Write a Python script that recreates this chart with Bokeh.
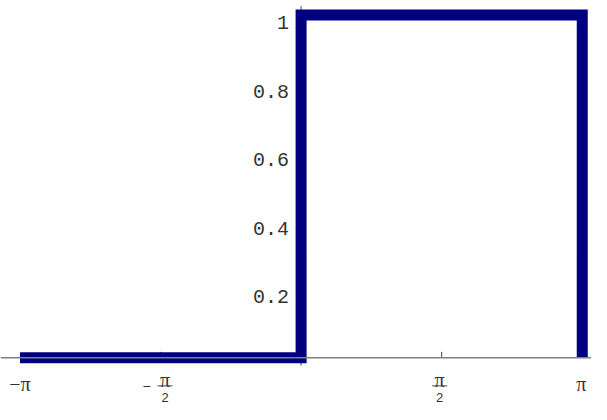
import math
from bokeh.plotting import figure
from bokeh.models import Span, Range1d
from bokeh.core.properties import value
from bokeh.embed import file_html
from bokeh.resources import INLINE

PI = math.pi

# ---- data -------------------------------------------------------------
step_x = [-PI, 0.0, 0.0, PI, PI]
step_y = [0.0, 0.0, 1.0, 1.0, 0.0]

y_ticks = [0.2, 0.4, 0.6, 0.8, 1.0]
y_labels = ["0.2", "0.4", "0.6", "0.8", "1"]

plain_ticks = [-PI, PI]
plain_labels = ["\u2212\u03c0", "\u03c0"]

frac_ticks = [-PI / 2, PI / 2]
frac_signs = ["\u2212", ""]
frac_nums = ["\u03c0", "\u03c0"]
frac_dens = ["2", "2"]

# ---- layout -------------------------------------------------------------
W, H = 591, 404
X0, X1 = -3.359, 3.245
Y0, Y1 = -0.1360, 1.0421
PX_X = W / (X1 - X0)
PX_Y = H / (Y1 - Y0)


def dy(px):
    """screen pixels downward -> data units"""
    return -px / PX_Y


def dx(px):
    return px / PX_X


p = figure(width=W, height=H, output_backend="svg", toolbar_location=None,
           x_range=Range1d(X0, X1), y_range=Range1d(Y0, Y1),
           min_border=0, min_border_left=0, min_border_right=0,
           min_border_top=0, min_border_bottom=0)
p.axis.visible = False
p.grid.visible = False
p.outline_line_color = None
p.background_fill_color = "white"
p.border_fill_color = "white"

# axes through the origin
p.add_layout(Span(location=0, dimension="width", line_color="#808080", line_width=1.5))
p.segment(x0=[0], y0=[dy(8)], x1=[0], y1=[dy(-352)], line_color="#555555", line_width=1)
# small x ticks (upward)
p.segment(x0=frac_ticks, y0=[0] * len(frac_ticks), x1=frac_ticks,
          y1=[dy(-6)] * len(frac_ticks), line_color="#444444", line_width=1)

# step function
p.line(step_x, step_y, line_color="#000080", line_width=11,
       line_join="miter", line_cap="butt")

# y tick labels
p.text(x=[0] * len(y_ticks), y=y_ticks, text=y_labels, x_offset=-12, y_offset=7.5,
       text_align="right", text_baseline="alphabetic",
       text_font=value("Liberation Mono"), text_font_size="20px", text_color="#333333")

# x tick labels: plain
p.text(x=plain_ticks, y=[0, 0], text=plain_labels, x_offset=[0, -1], y_offset=26,
       text_align="center", text_baseline="alphabetic",
       text_font=value("Liberation Serif"), text_font_size="20px", text_color="#333333")

# x tick labels: fractions
shift = [4.5, -2]
fx = [t + dx(s) for t, s in zip(frac_ticks, shift)]
p.text(x=fx, y=[0, 0], text=frac_nums, y_offset=22,
       text_align="center", text_baseline="alphabetic",
       text_font=value("Liberation Serif"), text_font_size="20px", text_color="#333333")
p.segment(x0=[x - dx(7.5) for x in fx], y0=[dy(28)] * 2,
          x1=[x + dx(7.5) for x in fx], y1=[dy(28)] * 2,
          line_color="#444444", line_width=1)
p.text(x=fx, y=[0, 0], text=frac_dens, y_offset=40,
       text_align="center", text_baseline="alphabetic",
       text_font=value("Liberation Sans"), text_font_size="13px", text_color="#333333")
p.text(x=[x - dx(18.5) for x in fx], y=[0, 0], text=frac_signs, y_offset=28,
       text_align="center", text_baseline="middle",
       text_font=value("Liberation Sans"), text_font_size="14px", text_color="#333333")

open("out.html", "w").write(file_html(p, INLINE))
